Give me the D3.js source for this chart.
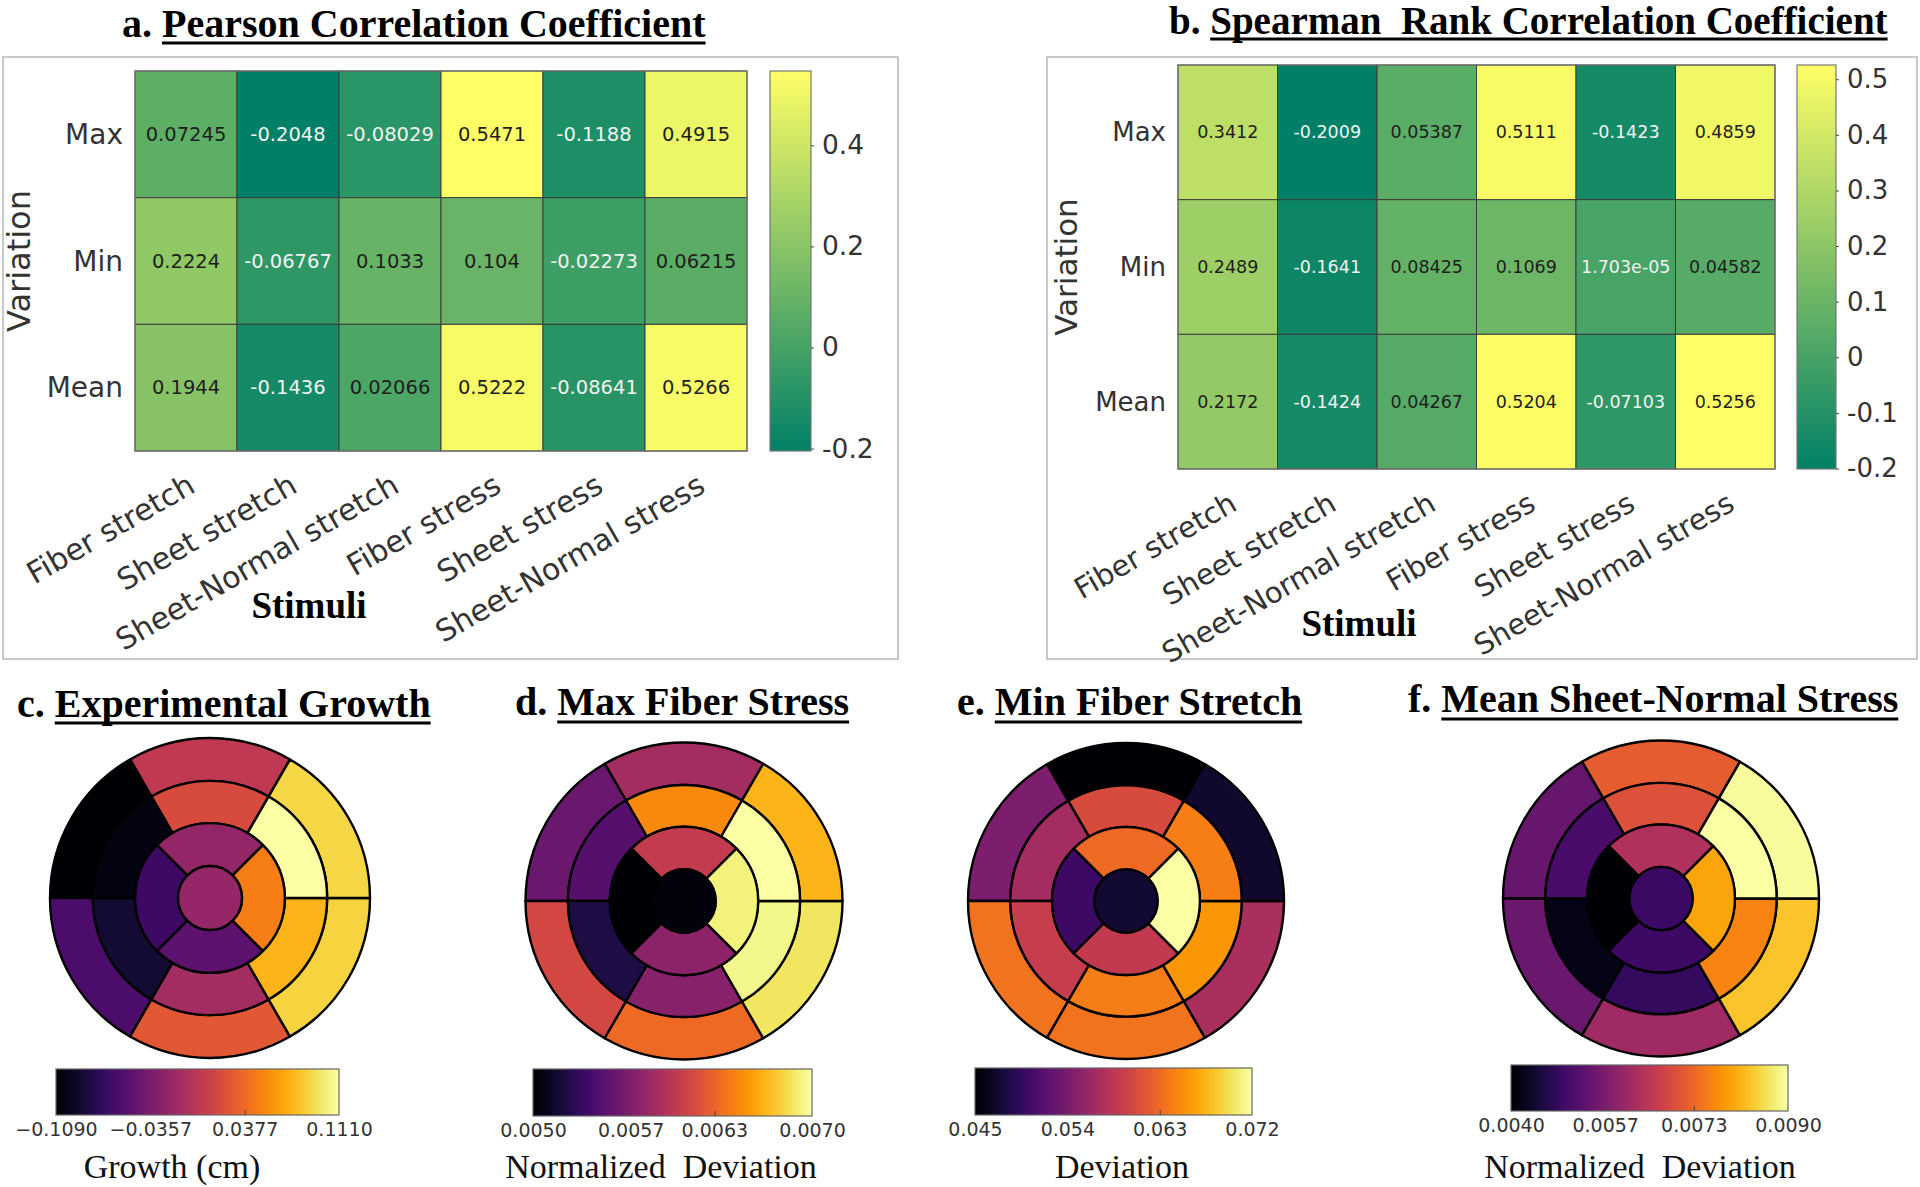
<!DOCTYPE html>
<html><head><meta charset="utf-8">
<script src="https://cdn.jsdelivr.net/npm/d3@7"></script>
<style>body{margin:0;background:#fff}svg{display:block}</style>
</head><body>
<svg id="chart" width="1920" height="1187"></svg>
<script>
// ---------------- data ----------------
const stimuli = ["Fiber stretch","Sheet stretch","Sheet-Normal stretch","Fiber stress","Sheet stress","Sheet-Normal stress"];
const variations = ["Max","Min","Mean"];

const pearsonMax  = [0.07245,-0.2048,-0.08029,0.5471,-0.1188,0.4915];
const pearsonMin  = [0.2224,-0.06767,0.1033,0.104,-0.02273,0.06215];
const pearsonMean = [0.1944,-0.1436,0.02066,0.5222,-0.08641,0.5266];
const pearsonTicks = [-0.2,0,0.2,0.4];

const spearmanMax  = [0.3412,-0.2009,0.05387,0.5111,-0.1423,0.4859];
const spearmanMin  = [0.2489,-0.1641,0.08425,0.1069,1.703e-05,0.04582];
const spearmanMean = [0.2172,-0.1424,0.04267,0.5204,-0.07103,0.5256];
const spearmanTicks = [-0.2,-0.1,0,0.1,0.2,0.3,0.4,0.5];

// bull's-eye segment order:
// outer ring [top, top-left, bottom-left, bottom, bottom-right, top-right],
// middle ring (same order), inner ring [top, left, bottom, right], apex
const growthValues = [0.003,-0.109,-0.060,0.027,0.087,0.089, 0.019,-0.102,-0.089,-0.012,0.074,0.111, -0.021,-0.067,-0.050,0.049, -0.020];
const growthTicks = [-0.1090,-0.0357,0.0377,0.1110];

const maxFiberStressValues = [0.00588,0.00560,0.00614,0.00634,0.00686,0.00666, 0.00648,0.00550,0.00524,0.00574,0.00694,0.00700, 0.00604,0.00500,0.00576,0.00692, 0.00504];
const maxFiberStressTicks = [0.0050,0.0057,0.0063,0.0070];

const minFiberStretchValues = [0.0450,0.0542,0.0636,0.0636,0.0574,0.0472, 0.0607,0.0569,0.0593,0.0642,0.0658,0.0644, 0.0631,0.0501,0.0590,0.0720, 0.0474];
const minFiberStretchTicks = [0.045,0.054,0.063,0.072];

const meanSheetNormalValues = [0.00715,0.00545,0.00550,0.00615,0.00830,0.00895, 0.00700,0.00510,0.00420,0.00485,0.00765,0.00900, 0.00635,0.00400,0.00495,0.00800, 0.00490];
const meanSheetNormalTicks = [0.0040,0.0057,0.0073,0.0090];

// ---------------- drawing ----------------
const svg = d3.select("#chart");
const SANS = "DejaVu Sans, Verdana, sans-serif";
const SERIF = "Liberation Serif, Times New Roman, serif";
const defs = svg.append("defs");

function title(x, y, label, text, ulY, size) {
  const g = svg.append("g");
  const t1 = g.append("text").attr("x", x).attr("y", y)
    .attr("font-family", SERIF).attr("font-weight", "bold").attr("font-size", size)
    .attr("fill", "#000").style("white-space", "pre").text(label + " ");
  const w1 = t1.node().getComputedTextLength();
  const t2 = g.append("text").attr("x", x + w1).attr("y", y)
    .attr("font-family", SERIF).attr("font-weight", "bold").attr("font-size", size)
    .attr("fill", "#000").style("white-space", "pre").text(text);
  const w2 = t2.node().getComputedTextLength();
  g.append("line").attr("x1", x + w1).attr("x2", x + w1 + w2)
    .attr("y1", ulY).attr("y2", ulY).attr("stroke", "#000").attr("stroke-width", 3);
}

function fmtCell(v) {
  if (v !== 0 && Math.abs(v) < 1e-4) {
    return v.toExponential(3).replace(/e([+-])(\d)$/, "e$10$2");
  }
  return String(v);
}

function heatmap(cfg) {
  const rowsData = [cfg.max, cfg.min, cfg.mean];
  const all = rowsData.flat();
  const lo = d3.min(all), hi = d3.max(all);
  const color = d3.scaleLinear().domain([lo, hi]).range(["#008066", "#ffff66"]);
  const g = svg.append("g");
  g.append("rect").attr("x", cfg.box[0]).attr("y", cfg.box[1]).attr("width", cfg.box[2]).attr("height", cfg.box[3])
    .attr("fill", "none").attr("stroke", "#c8c8c8").attr("stroke-width", 2);

  const x = d3.scaleBand().domain(stimuli).range([cfg.hx, cfg.hx + cfg.hw]);
  const y = d3.scaleBand().domain(variations).range([cfg.hy, cfg.hy + cfg.hh]);

  const cells = [];
  variations.forEach((vn, i) => stimuli.forEach((s, j) => cells.push({v: vn, s: s, val: rowsData[i][j]})));

  g.selectAll("rect.cell").data(cells).join("rect").attr("class", "cell")
    .attr("x", d => x(d.s)).attr("y", d => y(d.v))
    .attr("width", x.bandwidth()).attr("height", y.bandwidth())
    .attr("fill", d => color(d.val)).attr("stroke", "#3c3c3c").attr("stroke-width", 1);
  g.append("rect").attr("x", cfg.hx).attr("y", cfg.hy).attr("width", cfg.hw).attr("height", cfg.hh)
    .attr("fill", "none").attr("stroke", "#777").attr("stroke-width", 1.2);

  g.selectAll("text.cellv").data(cells).join("text").attr("class", "cellv")
    .attr("x", d => x(d.s) + x.bandwidth() / 2).attr("y", d => y(d.v) + y.bandwidth() / 2)
    .attr("text-anchor", "middle").attr("dominant-baseline", "central")
    .attr("font-family", SANS).attr("font-size", cfg.cellFont)
    .attr("fill", d => d.val < 0.01 ? "#f2f2f2" : "#1e1e1e")
    .text(d => fmtCell(d.val));

  g.selectAll("text.rowl").data(variations).join("text").attr("class", "rowl")
    .attr("x", cfg.hx - 12).attr("y", d => y(d) + y.bandwidth() / 2)
    .attr("text-anchor", "end").attr("dominant-baseline", "central")
    .attr("font-family", SANS).attr("font-size", cfg.rowFont).attr("fill", "#333")
    .text(d => d);

  g.selectAll("text.coll").data(stimuli).join("text").attr("class", "coll")
    .attr("transform", d => `translate(${x(d) + x.bandwidth() / 2 + 11},${cfg.hy + cfg.hh + 40}) rotate(-30)`)
    .attr("text-anchor", "end")
    .attr("font-family", SANS).attr("font-size", cfg.colFont).attr("fill", "#333")
    .text(d => d);

  g.append("text").attr("transform", `translate(${cfg.varX},${cfg.hy + cfg.hh / 2}) rotate(-90)`)
    .attr("text-anchor", "middle").attr("font-family", SANS).attr("font-size", cfg.varFont).attr("fill", "#333")
    .text("Variation");
  g.append("text").attr("x", cfg.stimX).attr("y", cfg.stimY).attr("text-anchor", "middle")
    .attr("font-family", SERIF).attr("font-weight", "bold").attr("font-size", 37).attr("fill", "#000")
    .text("Stimuli");

  const gid = "grad" + cfg.id;
  const grad = defs.append("linearGradient").attr("id", gid).attr("x1", 0).attr("y1", 1).attr("x2", 0).attr("y2", 0);
  grad.append("stop").attr("offset", "0%").attr("stop-color", color(lo));
  grad.append("stop").attr("offset", "100%").attr("stop-color", color(hi));
  g.append("rect").attr("x", cfg.cx).attr("y", cfg.hy).attr("width", cfg.cw).attr("height", cfg.hh)
    .attr("fill", `url(#${gid})`).attr("stroke", "#777").attr("stroke-width", 1.2);
  const cs = d3.scaleLinear().domain([lo, hi]).range([cfg.hy + cfg.hh, cfg.hy]);
  const ax = g.append("g").attr("transform", `translate(${cfg.cx + cfg.cw},0)`)
    .call(d3.axisRight(cs).tickValues(cfg.ticks).tickSize(3).tickPadding(8)
      .tickFormat(d => d === 0 ? "0" : String(d)));
  ax.select(".domain").remove();
  ax.selectAll("line").attr("stroke", "#444");
  ax.selectAll("text").attr("font-family", SANS).attr("font-size", cfg.tickFont).attr("fill", "#333");
}

heatmap({id: "a", max: pearsonMax, min: pearsonMin, mean: pearsonMean, ticks: pearsonTicks,
  box: [3, 57, 895, 602], hx: 135, hy: 71, hw: 612, hh: 380, cx: 770, cw: 41,
  cellFont: 19.5, rowFont: 28, colFont: 30, varFont: 32, tickFont: 26.5, varX: 30, stimX: 309, stimY: 618});
heatmap({id: "b", max: spearmanMax, min: spearmanMin, mean: spearmanMean, ticks: spearmanTicks,
  box: [1047, 57, 870, 602], hx: 1178, hy: 65, hw: 597, hh: 404, cx: 1797, cw: 39,
  cellFont: 17.5, rowFont: 26, colFont: 29, varFont: 31, tickFont: 26, varX: 1077, stimX: 1359, stimY: 636});

title(122, 37, "a.", "Pearson Correlation Coefficient", 43, 40);
title(1169, 34, "b.", "Spearman  Rank Correlation Coefficient", 39, 39);

function bullseye(cfg) {
  const lo = cfg.ticks[0], hi = cfg.ticks[cfg.ticks.length - 1];
  const color = d3.scaleSequential(d3.interpolateInferno).domain([lo, hi]);
  const g = svg.append("g").attr("transform", `translate(${cfg.cx},${cfg.cy})`);
  const R = cfg.r;
  const radii = [0.2, 0.468, 0.732, 1].map(f => f * R);
  const rad = a => (90 - a) * Math.PI / 180;
  const segs = [];
  for (let i = 0; i < 6; i++) segs.push({r0: radii[2], r1: radii[3], a0: 60 + 60 * i, a1: 120 + 60 * i, v: cfg.values[i]});
  for (let i = 0; i < 6; i++) segs.push({r0: radii[1], r1: radii[2], a0: 60 + 60 * i, a1: 120 + 60 * i, v: cfg.values[6 + i]});
  for (let i = 0; i < 4; i++) segs.push({r0: radii[0], r1: radii[1], a0: 45 + 90 * i, a1: 135 + 90 * i, v: cfg.values[12 + i]});
  const arc = d3.arc();
  g.selectAll("path.seg").data(segs).join("path").attr("class", "seg")
    .attr("d", d => arc({innerRadius: d.r0, outerRadius: d.r1, startAngle: rad(d.a1), endAngle: rad(d.a0)}))
    .attr("fill", d => color(d.v)).attr("stroke", "#000").attr("stroke-width", 2.4).attr("stroke-linejoin", "round");
  g.append("circle").attr("r", radii[0]).attr("fill", color(cfg.values[16]))
    .attr("stroke", "#000").attr("stroke-width", 2.4);

  const gid = "inf" + cfg.id;
  const grad = defs.append("linearGradient").attr("id", gid);
  d3.range(0, 1.0001, 0.05).forEach(t => grad.append("stop").attr("offset", t).attr("stop-color", d3.interpolateInferno(t)));
  const [bx0, bx1, by0, by1] = cfg.bar;
  svg.append("rect").attr("x", bx0).attr("y", by0).attr("width", bx1 - bx0).attr("height", by1 - by0)
    .attr("fill", `url(#${gid})`).attr("stroke", "#666").attr("stroke-width", 1.2);
  const xs = d3.scaleLinear().domain([lo, hi]).range([bx0, bx1]);
  const ax = svg.append("g").attr("transform", `translate(0,${by1})`)
    .call(d3.axisBottom(xs).tickValues(cfg.ticks).tickSizeInner(-5).tickSizeOuter(0).tickPadding(8)
      .tickFormat(d3.format(cfg.fmt)));
  ax.select(".domain").remove();
  ax.selectAll("line").attr("stroke", "#444").filter((d, i) => i === 0 || i === cfg.ticks.length - 1).remove();
  ax.selectAll("text").attr("font-family", SANS).attr("font-size", 19).attr("fill", "#333");
  svg.append("text").attr("x", cfg.labX).attr("y", 1178).attr("text-anchor", "middle")
    .attr("font-family", SERIF).attr("font-size", 34).attr("fill", "#111").style("white-space", "pre")
    .text(cfg.label);
}

bullseye({id: "c", cx: 210, cy: 898, r: 160, values: growthValues, ticks: growthTicks, fmt: ".4f",
  bar: [56, 339, 1069, 1115], labX: 172, label: "Growth (cm)"});
bullseye({id: "d", cx: 684, cy: 901, r: 158.5, values: maxFiberStressValues, ticks: maxFiberStressTicks, fmt: ".4f",
  bar: [533, 812, 1069, 1116], labX: 661, label: "Normalized  Deviation"});
bullseye({id: "e", cx: 1126, cy: 901, r: 158, values: minFiberStretchValues, ticks: minFiberStretchTicks, fmt: ".3f",
  bar: [975, 1252, 1068, 1115], labX: 1122, label: "Deviation"});
bullseye({id: "f", cx: 1661, cy: 898.5, r: 158, values: meanSheetNormalValues, ticks: meanSheetNormalTicks, fmt: ".4f",
  bar: [1511, 1788, 1065, 1111], labX: 1640, label: "Normalized  Deviation"});

title(17, 717, "c.", "Experimental Growth", 723, 40);
title(515, 715, "d.", "Max Fiber Stress", 722, 40);
title(957, 715, "e.", "Min Fiber Stretch", 722, 40);
title(1408, 712, "f.", "Mean Sheet-Normal Stress", 719, 40);
</script>
</body></html>
